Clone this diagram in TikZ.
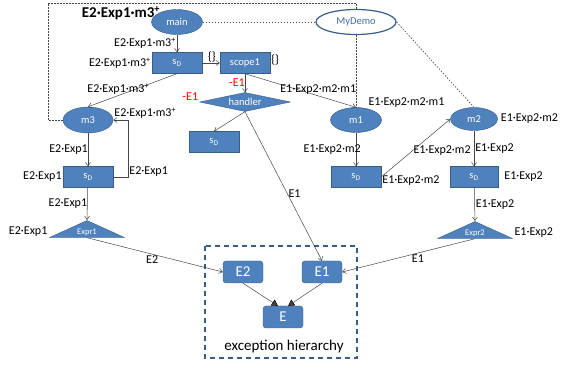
\documentclass[tikz,border=0pt]{standalone}
\usepackage{fontspec}
\setmainfont{Carlito}
\usepackage{tikz}
\usetikzlibrary{arrows.meta, shapes.geometric, positioning}
\definecolor{boxblue}{RGB}{79,129,189}
\definecolor{edgeblue}{RGB}{56,93,138}
\definecolor{linegray}{RGB}{70,70,70}

\begin{document}
\begin{tikzpicture}[x=1pt, y=-1pt,
        meth/.style = {draw=edgeblue, fill=boxblue, ellipse, text=white, inner sep=0pt, minimum width=51pt, minimum height=25pt, font=\fontsize{10.5}{12}\selectfont},
        stmt/.style = {draw=edgeblue, fill=boxblue, rectangle, text=white, inner sep=0pt, minimum width=50pt, minimum height=21pt, font=\fontsize{10.5}{12}\selectfont},
        catch/.style = {draw=edgeblue, fill=boxblue, diamond, aspect=4.8, inner sep=0.5pt, minimum width=91pt, minimum height=19pt, text=white, font=\fontsize{10.5}{12}\selectfont},
        expr/.style = {draw=edgeblue, fill=boxblue, isosceles triangle, shape border rotate=90, isosceles triangle stretches, inner sep=0pt, minimum width=75pt, minimum height=17pt, anchor=apex},
        exprtext/.style = {text=white, anchor=south, inner sep=1.5pt, font=\fontsize{8.5}{10}\selectfont},
        exc/.style = {draw=edgeblue, fill=boxblue, rounded corners=3pt, minimum width=40pt, minimum height=22pt, text=white, font=\fontsize{15}{17}\selectfont},
        lbl/.style = {font=\fontsize{12}{14}\selectfont, text=black, inner sep=1pt},
        flow/.style = {color=linegray, line width=0.5pt, -{Straight Barb[length=3.5pt, width=5pt]}},
        isa/.style = {color=linegray, line width=0.5pt, -{Triangle[length=6pt, width=7pt, color=black]}},
        link/.style = {draw=linegray, line width=0.6pt, dash pattern=on 1.5pt off 1.5pt}]
    \useasboundingbox (0,0) rectangle (563,366);

    \node[font=\bfseries\fontsize{15}{17}\selectfont] (title) at (121,13) {E2·Exp1·m3\textsuperscript{+}};

    \node[meth] (main) at (177,22) {main};
    \node[meth, fill=white, text=boxblue!85!black, line width=1.2pt, minimum width=80pt] (MyDemo) at (356,22) {MyDemo};

    \node[stmt, label={[lbl]left:E2·Exp1·m3\textsuperscript{+}}] (sD0) at (177,63) {s\textsubscript{D}};
    \node[stmt, label={[lbl, yshift=3pt]right:\{\}}] (scope1) at (245,63) {scope1};

    \node[meth, minimum width=50pt, minimum height=26pt] (m3) at (88,120) {m3};
    \node[catch, label={[lbl, text=red, yshift=5pt]left:-E1}] (handler) at (245,102) {handler};
    \node[stmt] (sDh) at (214,142) {s\textsubscript{D}};
    \node[meth, label={[lbl]above right:E1·Exp2·m2·m1}] (m1) at (356,120) {m1};
    \node[meth, minimum width=47pt, minimum height=23pt, label={[lbl, label distance=2pt]right:E1·Exp2·m2}] (m2) at (474,119) {m2};

    \node[stmt, label={[lbl]left:E2·Exp1}] (sD3) at (88,177) {s\textsubscript{D}};
    \node[stmt, label={[lbl, yshift=-4pt]right:E1·Exp2·m2}] (sD1) at (356,177) {s\textsubscript{D}};
    \node[stmt, minimum width=48pt, label={[lbl, label distance=5pt]right:E1·Exp2}] (sD2) at (474,177) {s\textsubscript{D}};

    \node[expr] (Expr1) at (87,220) {};
    \node[expr] (Expr2) at (475,221) {};
    \node[exprtext] (Expr1txt) at (Expr1.lower side) {Expr1};
    \node[exprtext] (Expr2txt) at (Expr2.lower side) {Expr2};
    \node[lbl, anchor=south east] (Expr1lbl) at (Expr1.left corner) {E2·Exp1};
    \node[lbl, anchor=south west] (Expr2lbl) at (Expr2.right corner) {E1·Exp2};

    % exception hierarchy
    \draw[edgeblue, line width=1.3pt, dash pattern=on 5pt off 4pt] (205,246) rectangle (357,358);
    \node[exc] (E2) at (243,272) {E2};
    \node[exc] (E1) at (322,272) {E1};
    \node[exc] (E) at (283,317) {E};
    \node[font=\fontsize{15}{17}\selectfont] (hier) at (284,347) {exception hierarchy};

    % dotted links
    \coordinate (corner) at (48,3);
    \draw[link] (m3.west) -| (corner) -| (MyDemo.north);
    \draw[link] (main) -- (MyDemo);
    \draw[link] (MyDemo) -- (m1);
    \draw[link] (MyDemo.east) -- (m2.north);

    \path[flow] (main) edge node[lbl, left] {E2·Exp1·m3\textsuperscript{+}} (sD0);
    \path[flow] (sD0) edge node[lbl, above, pos=0.55] {\{\}} (scope1);
    \path[flow] (sD0.south) edge node[lbl, above, pos=0.66] {E2·Exp1·m3\textsuperscript{+}} (m3.north);

    \path[flow] (scope1) edge node[lbl, left, inner sep=0pt, text=red] {-E1} (handler);
    \path[flow] (scope1.south) edge node[lbl, above, pos=0.66] {E1·Exp2·m2·m1} (m1.north);
    \path[flow] (handler.south) edge (sDh.north);
    \path[flow] (handler.south) edge node[lbl, right, pos=0.55] {E1} (E1.north);

    \path[flow] (m3) edge node[lbl, left, inner sep=0pt] {E2·Exp1} (sD3);
    \draw[flow] (sD3.east) -- ++(15,0) |- node[lbl, right, pos=0.05] {E2·Exp1} node[lbl, above right, pos=1] {E2·Exp1·m3\textsuperscript{+}} (m3.east);
    \path[flow] (sD3) edge node[lbl, left, inner sep=0pt] {E2·Exp1} (Expr1.apex);

    \path[flow] (m1) edge node[lbl, left, xshift=6pt] {E1·Exp2·m2} (sD1);
    \path[flow] (sD1.east) edge node[lbl, right, pos=0.45] {E1·Exp2·m2} (m2.west);
    \path[flow] (m2) edge node[lbl, right] {E1·Exp2} (sD2);
    \path[flow] (sD2) edge node[lbl, right] {E1·Exp2} (Expr2.apex);

    \path[flow] (Expr1.lower side) edge node[lbl, below, pos=0.48] {E2} (E2.west);
    \path[flow] (Expr2.lower side) edge node[lbl, below, pos=0.43] {E1} (E1.east);

    \path[isa] (E2.south) edge (E.115);
    \path[isa] (E1.south) edge (E.65);
\end{tikzpicture}
\end{document}
